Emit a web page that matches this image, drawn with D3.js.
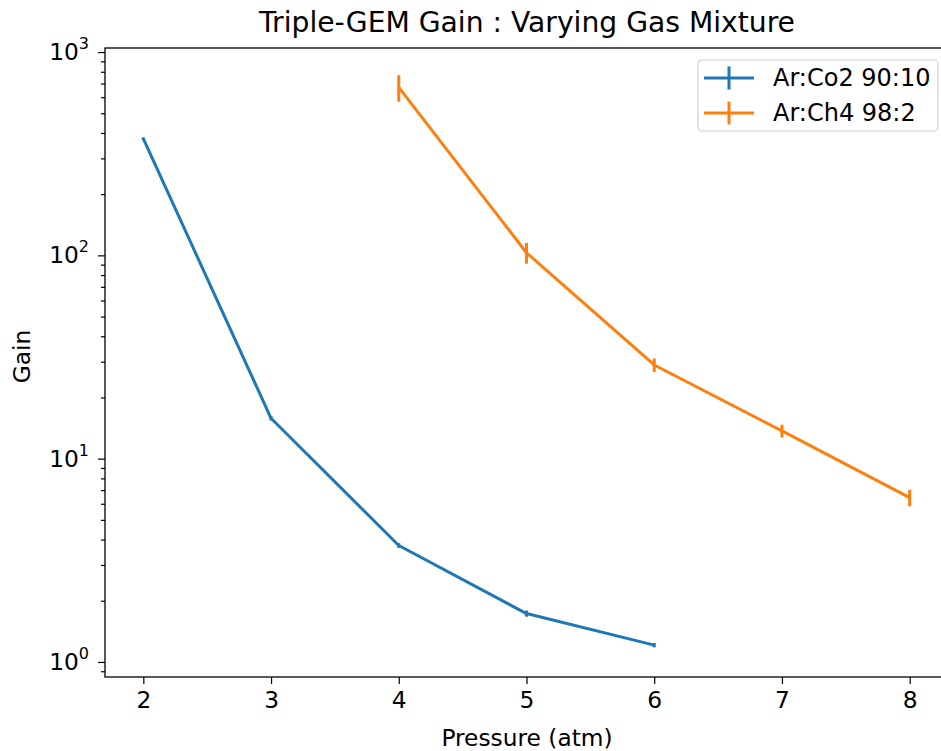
<!DOCTYPE html>
<html>
<head>
<meta charset="utf-8">
<script src="https://cdn.jsdelivr.net/npm/d3@7"></script>
<style>
  body { margin: 0; background: #fff; }
  svg { display: block; font-family: "DejaVu Sans", sans-serif; }
</style>
</head>
<body>
<div id="chart"></div>
<script>
const width = 941, height = 751;
const margin = { top: 48, right: -7, bottom: 74, left: 105 };

// data
const pressure = [2, 3, 4, 5, 6, 7, 8];
const co2Pressure = [2, 3, 4, 5, 6];
const co2Gain = [375, 15.8, 3.74, 1.73, 1.21];
const co2Err = [6, 0.4, 0.1, 0.06, 0.03];
const ch4Pressure = [4, 5, 6, 7, 8];
const ch4Gain = [670, 103, 28.9, 13.7, 6.43];
const ch4Err = [100, 12, 2.2, 1.0, 0.6];
const yDecades = [1, 10, 100, 1000];

const series = [
  { name: "Ar:Co2 90:10", color: "#1f77b4", x: co2Pressure, y: co2Gain, e: co2Err },
  { name: "Ar:Ch4 98:2", color: "#ff7f0e", x: ch4Pressure, y: ch4Gain, e: ch4Err }
];

const fs = 23.3, lw = 3;

const svg = d3.select("#chart").append("svg")
  .attr("width", width).attr("height", height);

const x = d3.scaleLinear().domain([1.7, 8.3]).range([margin.left, width - margin.right]);
const y = d3.scaleLog().domain([Math.pow(10, -0.074), Math.pow(10, 3.02)])
  .range([height - margin.bottom, margin.top]);

const plotB = height - margin.bottom, plotT = margin.top;

// lines + error bars
const line = d3.line().x(d => x(d[0])).y(d => y(d[1]));
series.forEach(s => {
  const pts = s.x.map((v, i) => [v, s.y[i], s.e[i]]);
  svg.append("path")
    .attr("d", line(pts))
    .attr("fill", "none")
    .attr("stroke", s.color)
    .attr("stroke-width", lw)
    .attr("stroke-linejoin", "round");
  svg.selectAll(null).data(pts).join("line")
    .attr("x1", d => x(d[0])).attr("x2", d => x(d[0]))
    .attr("y1", d => y(d[1] + d[2])).attr("y2", d => y(d[1] - d[2]))
    .attr("stroke", s.color).attr("stroke-width", lw);
});

// axes
const xAxis = d3.axisBottom(x).tickValues(pressure).tickFormat(d3.format("d"))
  .tickSize(7).tickPadding(7);
const gx = svg.append("g").attr("transform", `translate(0,${plotB})`).call(xAxis);

const minorVals = [];
[0.1, 1, 10, 100].forEach(b => { for (let k = 2; k <= 9; k++) minorVals.push(b * k); });
const visMinor = minorVals.filter(v => v >= y.domain()[0] && v <= y.domain()[1]);

const gy = svg.append("g").attr("transform", `translate(${margin.left},0)`);
gy.call(d3.axisLeft(y).tickValues(visMinor).tickFormat("").tickSize(4));
gy.select(".domain").remove();
const gyMaj = svg.append("g").attr("transform", `translate(${margin.left},0)`)
  .call(d3.axisLeft(y).tickValues(yDecades).tickFormat("").tickSize(7));
gyMaj.select(".domain").remove();

// superscript decade labels
yDecades.forEach(v => {
  const t = svg.append("text")
    .attr("x", margin.left - 16).attr("y", y(v) + 8)
    .attr("text-anchor", "end").attr("font-size", fs).attr("fill", "#000");
  t.append("tspan").text("10");
  t.append("tspan").attr("dy", -11).attr("font-size", 16).text(Math.round(Math.log10(v)));
});

[gx, gy, gyMaj].forEach(g => {
  g.selectAll("line").attr("stroke", "#000").attr("stroke-width", 1.2);
  g.selectAll("text").attr("font-size", fs).attr("fill", "#000")
    .attr("font-family", "DejaVu Sans, sans-serif");
});
gx.select(".domain").remove();

// frame
svg.append("rect")
  .attr("x", margin.left).attr("y", plotT)
  .attr("width", x(8.3) - margin.left).attr("height", plotB - plotT)
  .attr("fill", "none").attr("stroke", "#000").attr("stroke-width", 1.3);

// title and labels
svg.append("text").attr("x", 527).attr("y", 32).attr("text-anchor", "middle")
  .attr("font-size", 28.2).text("Triple-GEM Gain : Varying Gas Mixture");
svg.append("text").attr("x", 527).attr("y", 746).attr("text-anchor", "middle")
  .attr("font-size", fs).text("Pressure (atm)");
svg.append("text").attr("transform", `translate(30,${(plotT + plotB) / 2 - 6}) rotate(-90)`)
  .attr("text-anchor", "middle").attr("font-size", fs).text("Gain");

// legend
const lg = svg.append("g").attr("transform", "translate(698,60)");
lg.append("rect").attr("width", 240).attr("height", 71).attr("rx", 4)
  .attr("fill", "#fff").attr("fill-opacity", 0.8)
  .attr("stroke", "#d0d0d0").attr("stroke-width", 1.2);
series.forEach((s, i) => {
  const yy = 18 + i * 35;
  lg.append("line").attr("x1", 6).attr("x2", 56).attr("y1", yy).attr("y2", yy)
    .attr("stroke", s.color).attr("stroke-width", lw);
  lg.append("line").attr("x1", 31).attr("x2", 31).attr("y1", yy - 11.5).attr("y2", yy + 11.5)
    .attr("stroke", s.color).attr("stroke-width", lw);
  lg.append("text").attr("x", 75).attr("y", yy + 8).attr("font-size", 24).text(s.name);
});
</script>
</body>
</html>
